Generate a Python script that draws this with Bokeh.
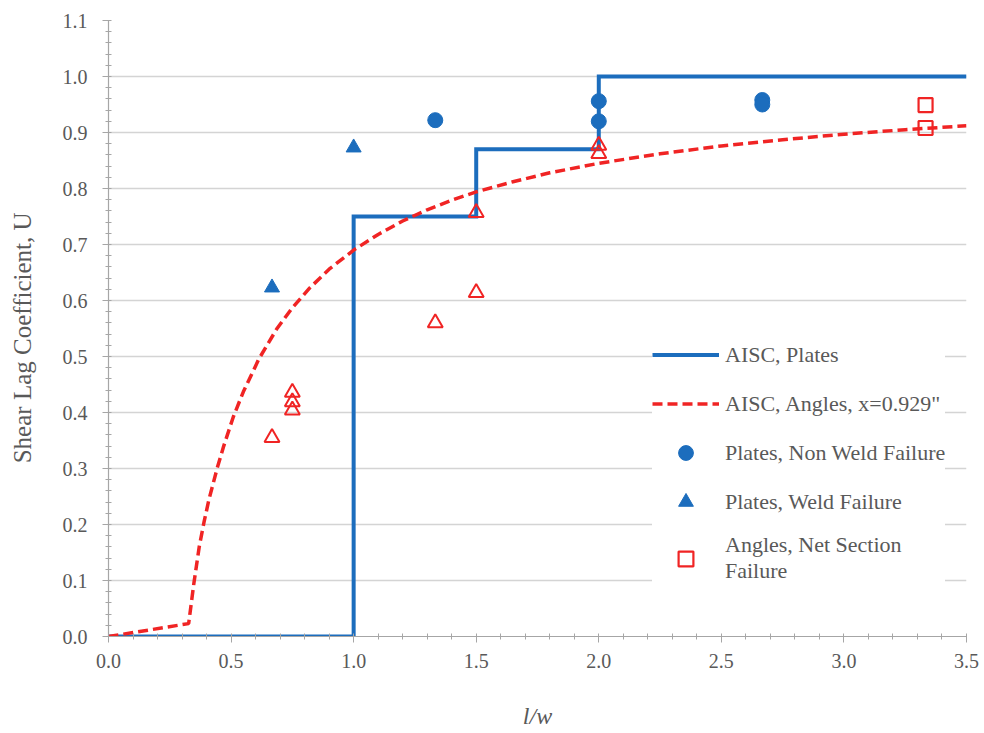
from bokeh.plotting import figure
from bokeh.models import Legend, LegendItem, FixedTicker, NumeralTickFormatter
from bokeh.embed import file_html
from bokeh.resources import INLINE

# AISC shear lag coefficient for plates (step function of l/w)
plate_x = [0.0, 1.0, 1.0, 1.5, 1.5, 2.0, 2.0, 3.5]
plate_u = [0.0, 0.0, 0.75, 0.75, 0.87, 0.87, 1.0, 1.0]

# AISC shear lag coefficient for angles, x = 0.929"
angle_x = [0.0, 0.327, 0.348, 0.37, 0.39, 0.41, 0.443, 0.47, 0.509, 0.55,
           0.614, 0.686, 0.75, 0.82, 0.90, 1.0, 1.1, 1.2, 1.3, 1.4, 1.5,
           1.65, 1.8, 2.0, 2.25, 2.5, 2.75, 3.0, 3.25, 3.5]
angle_u = [0.0, 0.023, 0.094, 0.16, 0.205, 0.245, 0.30, 0.34, 0.392, 0.437,
           0.496, 0.549, 0.587, 0.622, 0.656, 0.69, 0.718, 0.742, 0.762,
           0.779, 0.794, 0.812, 0.828, 0.845, 0.862, 0.876, 0.887, 0.897,
           0.905, 0.912]

# Test results
plates_nonweld_x = [1.333, 2.0, 2.0, 2.667, 2.667]
plates_nonweld_u = [0.922, 0.956, 0.920, 0.958, 0.950]

plates_weld_x = [0.667, 1.0]
plates_weld_u = [0.623, 0.873]

angles_other_x = [0.667, 0.75, 0.75, 0.75, 1.333, 1.5, 1.5, 2.0, 2.0]
angles_other_u = [0.355, 0.436, 0.419, 0.404, 0.560, 0.614, 0.757, 0.877, 0.862]

angles_net_x = [3.333, 3.333]
angles_net_u = [0.949, 0.908]

x_ticks = [0.0, 0.5, 1.0, 1.5, 2.0, 2.5, 3.0, 3.5]
y_ticks = [0.0, 0.1, 0.2, 0.3, 0.4, 0.5, 0.6, 0.7, 0.8, 0.9, 1.0, 1.1]

BLUE = "#1c6dbd"
RED = "#f02424"
GREY_TXT = "#595959"
SERIF = "Liberation Serif"
NBSP = "\u00a0"

p = figure(
    frame_width=858, frame_height=616,
    x_range=(0, 3.5), y_range=(0, 1.1),
    output_backend="svg", toolbar_location=None,
    min_border_left=108, min_border_right=18,
    min_border_top=20, min_border_bottom=97,
    background_fill_color="white", border_fill_color="white",
)
p.outline_line_color = None

# grid: horizontal lines only
p.xgrid.visible = False
p.ygrid.grid_line_color = "#d4d4d4"
p.ygrid.grid_line_width = 1.5
p.ygrid.ticker = FixedTicker(ticks=y_ticks)

for ax in (p.xaxis[0], p.yaxis[0]):
    ax.axis_line_color = "#a6a6a6"
    ax.axis_line_width = 1.2
    ax.major_tick_line_color = "#a6a6a6"
    ax.minor_tick_line_color = "#a6a6a6"
    ax.major_tick_out = 6
    ax.major_tick_in = 0
    ax.minor_tick_out = 3
    ax.minor_tick_in = 3
    ax.major_label_text_font = SERIF
    ax.major_label_text_font_size = "20px"
    ax.major_label_text_color = GREY_TXT
    ax.axis_label_text_font = SERIF
    ax.axis_label_text_font_size = "25px"
    ax.axis_label_text_color = GREY_TXT
    ax.formatter = NumeralTickFormatter(format="0.0")

p.xaxis[0].ticker = FixedTicker(ticks=x_ticks,
                                minor_ticks=[i / 10 for i in range(36)])
p.yaxis[0].ticker = FixedTicker(ticks=y_ticks,
                                minor_ticks=[i / 50 for i in range(56)])
p.xaxis[0].axis_label = "l/w"
p.xaxis[0].axis_label_text_font_style = "italic"
p.xaxis[0].axis_label_text_font_size = "24px"
p.xaxis[0].axis_label_standoff = 32
p.xaxis[0].major_label_standoff = 11
# trailing non-breaking spaces nudge the rotated title toward the bottom
p.yaxis[0].axis_label = "Shear Lag Coefficient, U" + NBSP * 3
p.yaxis[0].axis_label_text_font_style = "normal"
p.yaxis[0].axis_label_standoff = 24
p.yaxis[0].major_label_standoff = 15

r_plate = p.line(plate_x, plate_u, line_color=BLUE, line_width=4,
                 line_join="miter")
r_angle = p.line(angle_x, angle_u, line_color=RED, line_width=3.5,
                 line_dash="10 5")

r_nonweld = p.scatter(plates_nonweld_x, plates_nonweld_u, marker="circle",
                      size=15, fill_color=BLUE, line_color=BLUE)
r_weld = p.scatter(plates_weld_x, plates_weld_u, marker="triangle",
                   size=15, fill_color=BLUE, line_color=BLUE)
p.scatter(angles_other_x, angles_other_u, marker="triangle", size=15,
          fill_color=None, line_color=RED, line_width=2)
r_net = p.scatter(angles_net_x, angles_net_u, marker="square", size=14,
                  fill_color=None, line_color=RED, line_width=2.2)

legend = Legend(
    items=[
        LegendItem(label="AISC, Plates", renderers=[r_plate]),
        LegendItem(label="AISC, Angles, x=0.929\"", renderers=[r_angle]),
        LegendItem(label="Plates, Non Weld Failure", renderers=[r_nonweld]),
        LegendItem(label="Plates, Weld Failure", renderers=[r_weld]),
        LegendItem(label="Angles, Net Section\nFailure", renderers=[r_net]),
    ],
    location=(544, 52),
    border_line_color=None,
    background_fill_color="white",
    background_fill_alpha=1.0,
    label_text_font=SERIF,
    label_text_font_size="22px",
    label_text_color=GREY_TXT,
    glyph_width=67,
    glyph_height=37,
    label_standoff=6,
    spacing=12,
    padding=6,
    margin=0,
)
p.add_layout(legend, "center")

open("out.html", "w").write(file_html(p, INLINE))
